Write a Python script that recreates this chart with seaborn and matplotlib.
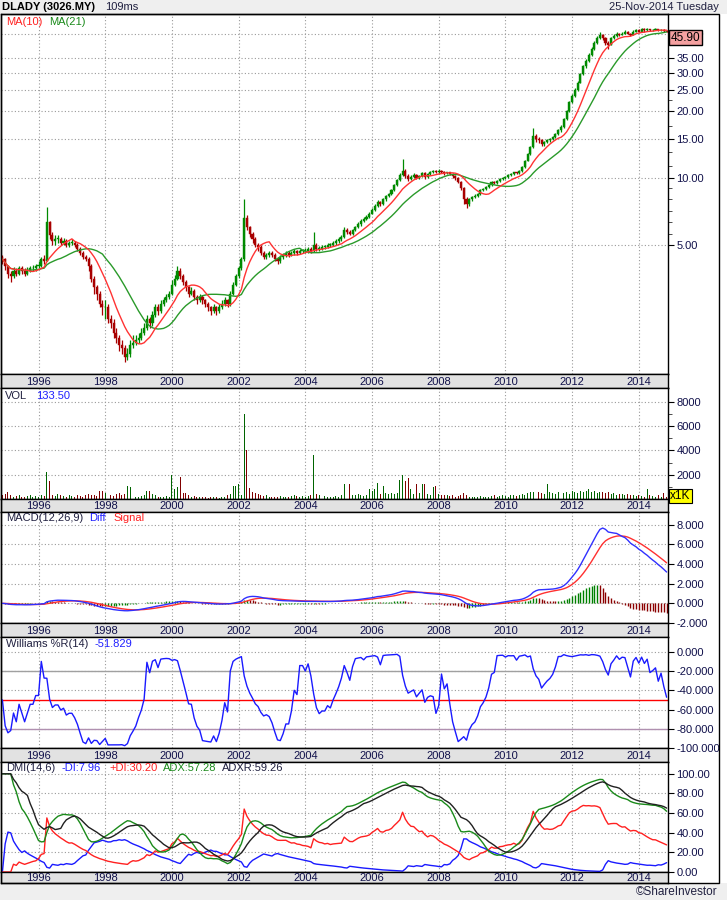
import numpy as np
import pandas as pd
import matplotlib
matplotlib.use("Agg")
import matplotlib.pyplot as plt
import matplotlib.transforms as mtransforms
from matplotlib.patches import Rectangle
import seaborn as sns

sns.set_theme(style="white")
plt.rcParams["font.family"] = ["Liberation Sans", "DejaVu Sans"]

# ---------------- data (monthly bars, Dec-1994 .. Nov-2014) ----------------
first_open = 4.4
close = [
    4.3,
    4.0, 3.7, 3.6, 3.8, 3.7, 3.9, 3.8, 3.7, 3.8, 3.9, 3.9, 4.0,            # 1995
    4.0, 4.3, 4.2, 6.3, 5.5, 5.2, 5.3, 5.3, 5.1, 5.2, 5.0, 5.1,            # 1996
    5.1, 5.0, 4.8, 4.6, 4.4, 4.3, 4.0, 3.5, 3.2, 3.0, 2.7, 2.6,            # 1997
    2.6, 2.3, 2.2, 2.0, 1.9, 1.75, 1.7, 1.55, 1.6, 1.75, 1.8, 1.85,        # 1998
    1.9, 2.0, 2.1, 2.3, 2.2, 2.4, 2.6, 2.5, 2.7, 2.8, 2.9, 3.0,            # 1999
    3.3, 3.5, 3.8, 3.6, 3.4, 3.2, 3.0, 3.1, 2.9, 2.8, 2.9, 2.8,            # 2000
    2.7, 2.6, 2.5, 2.6, 2.5, 2.6, 2.7, 2.8, 2.7, 3.0, 3.3, 3.6,            # 2001
    3.9, 4.3, 6.6, 6.0, 5.6, 5.3, 5.0, 4.9, 4.6, 4.4, 4.5, 4.6,            # 2002
    4.5, 4.3, 4.2, 4.4, 4.5, 4.6, 4.5, 4.6, 4.7, 4.6, 4.7, 4.7,            # 2003
    4.7, 4.8, 4.7, 5.0, 4.8, 4.8, 4.9, 4.9, 5.0, 5.0, 5.1, 5.2,            # 2004
    5.3, 5.4, 5.8, 5.7, 5.6, 5.8, 6.0, 6.2, 6.4, 6.5, 6.7, 6.9,            # 2005
    7.2, 7.5, 7.8, 7.6, 8.0, 8.3, 8.5, 8.8, 9.3, 9.8, 10.3, 10.8,          # 2006
    10.2, 9.9, 10.1, 10.3, 10.0, 10.2, 10.5, 10.1, 10.4, 10.6, 10.8, 10.6, # 2007
    10.8, 10.7, 10.5, 10.6, 10.4, 10.2, 10.0, 9.6, 9.0, 8.0, 7.6, 8.0,     # 2008
    8.2, 8.3, 8.5, 8.8, 8.9, 9.1, 9.3, 9.6, 9.5, 9.7, 9.9, 10.0,           # 2009
    10.1, 10.3, 10.4, 10.6, 10.5, 10.8, 11.2, 12.0, 12.8, 13.8, 15.5, 15.0,  # 2010
    14.8, 14.2, 14.5, 14.8, 15.0, 15.3, 15.8, 16.5, 17.0, 18.5, 20.0, 22.0,  # 2011
    23.5, 25.0, 27.0, 29.5, 32.0, 34.0, 36.0, 38.5, 41.0, 43.0, 44.5, 43.0,  # 2012
    41.0, 40.0, 43.0, 44.0, 45.0, 44.5, 45.0, 46.0, 45.0, 44.5, 46.0, 46.5,  # 2013
    46.0, 47.0, 46.5, 47.0, 46.5, 46.8, 47.0, 46.5, 46.8, 46.3, 45.9,        # 2014
]
high = [
    4.5,
    4.35, 4.05, 3.8, 3.95, 3.9, 4.0, 4.0, 3.9, 3.95, 4.0, 4.05, 4.1,
    4.2, 4.4, 4.5, 7.4, 6.4, 5.7, 5.5, 5.5, 5.4, 5.35, 5.3, 5.2,
    5.3, 5.2, 5.1, 4.9, 4.7, 4.5, 4.4, 4.1, 3.6, 3.3, 3.1, 2.8,
    2.8, 2.7, 2.4, 2.3, 2.1, 1.95, 1.85, 1.75, 1.7, 1.85, 1.95, 1.95,
    2.0, 2.1, 2.2, 2.4, 2.35, 2.5, 2.7, 2.7, 2.8, 2.9, 3.0, 3.1,
    3.45, 3.65, 4.0, 3.9, 3.7, 3.45, 3.25, 3.2, 3.15, 2.95, 3.0, 2.95,
    2.85, 2.75, 2.65, 2.7, 2.65, 2.7, 2.8, 2.9, 2.85, 3.1, 3.4, 3.7,
    4.0, 4.4, 8.0, 6.8, 6.1, 5.7, 5.4, 5.1, 5.0, 4.7, 4.6, 4.7,
    4.7, 4.6, 4.4, 4.5, 4.6, 4.7, 4.7, 4.7, 4.8, 4.75, 4.8, 4.8,
    4.85, 4.9, 4.9, 5.7, 5.1, 4.95, 5.0, 5.0, 5.1, 5.1, 5.2, 5.3,
    5.4, 5.5, 6.0, 5.95, 5.8, 5.9, 6.1, 6.3, 6.5, 6.65, 6.8, 7.0,
    7.3, 7.6, 7.95, 7.9, 8.1, 8.4, 8.6, 8.9, 9.4, 9.9, 10.5, 12.2,
    11.0, 10.4, 10.3, 10.5, 10.4, 10.35, 10.6, 10.6, 10.5, 10.8, 10.9, 10.9,
    11.0, 10.9, 10.8, 10.7, 10.7, 10.5, 10.3, 10.1, 9.7, 9.1, 8.2, 8.1,
    8.3, 8.45, 8.6, 8.9, 9.0, 9.2, 9.4, 9.7, 9.7, 9.8, 10.0, 10.1,
    10.25, 10.4, 10.5, 10.7, 10.7, 10.9, 11.3, 12.1, 13.0, 14.0, 16.8, 15.8,
    15.3, 15.0, 14.7, 15.0, 15.2, 15.5, 16.0, 16.7, 17.3, 18.7, 20.3, 22.4,
    24.0, 25.5, 27.5, 30.0, 32.6, 34.6, 36.8, 39.2, 41.8, 44.0, 45.8, 45.0,
    43.5, 41.5, 43.5, 44.6, 45.6, 45.5, 45.8, 46.8, 46.2, 45.4, 46.5, 47.0,
    47.0, 47.5, 47.6, 47.5, 47.3, 47.2, 47.5, 47.2, 47.2, 47.0, 46.6,
]
low = [
    4.1,
    3.85, 3.55, 3.4, 3.55, 3.6, 3.65, 3.7, 3.6, 3.65, 3.75, 3.8, 3.8,
    3.9, 3.95, 4.1, 4.2, 5.3, 5.0, 5.0, 5.1, 5.0, 5.0, 4.9, 4.9,
    5.0, 4.9, 4.7, 4.5, 4.3, 4.2, 3.8, 3.4, 3.0, 2.8, 2.6, 2.4,
    2.3, 2.2, 2.1, 1.9, 1.8, 1.65, 1.6, 1.48, 1.5, 1.55, 1.7, 1.75,
    1.8, 1.85, 1.95, 2.05, 2.1, 2.15, 2.35, 2.4, 2.45, 2.65, 2.75, 2.85,
    2.95, 3.25, 3.45, 3.5, 3.3, 3.1, 2.9, 2.95, 2.8, 2.7, 2.75, 2.7,
    2.6, 2.5, 2.4, 2.45, 2.4, 2.45, 2.55, 2.65, 2.6, 2.65, 2.95, 3.25,
    3.55, 3.85, 4.2, 5.8, 5.4, 5.1, 4.9, 4.7, 4.5, 4.3, 4.3, 4.4,
    4.4, 4.2, 4.1, 4.15, 4.3, 4.4, 4.4, 4.45, 4.5, 4.5, 4.55, 4.6,
    4.6, 4.6, 4.6, 4.65, 4.7, 4.7, 4.75, 4.8, 4.85, 4.9, 4.95, 5.0,
    5.1, 5.2, 5.35, 5.6, 5.5, 5.55, 5.75, 5.95, 6.1, 6.3, 6.45, 6.6,
    6.85, 7.1, 7.4, 7.5, 7.55, 7.9, 8.2, 8.4, 8.7, 9.2, 9.7, 10.2,
    10.0, 9.7, 9.8, 10.0, 9.9, 9.9, 10.1, 9.9, 10.0, 10.3, 10.5, 10.5,
    10.4, 10.5, 10.3, 10.4, 10.3, 10.0, 9.8, 9.5, 8.8, 7.6, 7.3, 7.5,
    7.9, 8.1, 8.2, 8.4, 8.7, 8.8, 9.0, 9.2, 9.4, 9.4, 9.6, 9.8,
    9.9, 10.0, 10.2, 10.3, 10.4, 10.4, 10.7, 11.1, 11.9, 12.7, 13.7, 14.6,
    14.4, 14.0, 14.0, 14.4, 14.6, 14.9, 15.2, 15.6, 16.2, 16.9, 18.3, 19.8,
    21.8, 23.2, 24.8, 26.8, 29.2, 31.5, 33.6, 35.5, 38.0, 40.5, 42.5, 42.0,
    40.0, 38.5, 39.8, 42.5, 43.5, 44.0, 44.2, 44.8, 44.6, 44.0, 44.3, 45.6,
    45.6, 45.8, 46.0, 46.2, 46.1, 46.2, 46.5, 46.2, 46.3, 46.0, 45.6,
]
volume_k = [
    300,
    400, 600, 300, 200, 250, 300, 200, 150, 250, 300, 200, 250,
    200, 300, 250, 2200, 1500, 300, 250, 400, 300, 250, 200, 350,
    250, 200, 300, 250, 200, 300, 400, 350, 300, 250, 700, 700,
    500, 400, 300, 250, 400, 500, 300, 400, 1100, 1000, 300, 200,
    200, 250, 300, 700, 650, 400, 300, 200, 150, 200, 250, 200,
    2000, 800, 1000, 1800, 500, 500, 300, 200, 250, 200, 150, 200,
    150, 100, 150, 200, 150, 100, 150, 200, 300, 400, 1100, 1100,
    1200, 300, 7000, 4000, 900, 600, 500, 400, 350, 250, 300, 200,
    200, 150, 200, 250, 200, 150, 200, 250, 300, 250, 200, 250,
    200, 250, 300, 3600, 400, 300, 200, 250, 200, 150, 200, 250,
    200, 300, 1200, 400, 1200, 300, 350, 400, 300, 250, 300, 800,
    700, 800, 1300, 400, 1100, 500, 400, 500, 450, 500, 1600, 2000,
    1500, 1700, 800, 400, 1200, 500, 1200, 1200, 400, 300, 1000, 1100,
    400, 300, 350, 300, 250, 300, 200, 250, 300, 500, 300, 200,
    200, 150, 200, 250, 200, 150, 200, 250, 300, 200, 250, 300,
    250, 200, 300, 350, 250, 300, 400, 350, 500, 600, 550, 400,
    600, 500, 400, 1200, 600, 500, 400, 550, 600, 500, 600, 400,
    700, 600, 500, 650, 600, 700, 800, 600, 700, 500, 600, 550,
    500, 600, 400, 500, 350, 400, 450, 300, 400, 350, 300, 250,
    300, 250, 200, 800, 300, 250, 200, 300, 200, 500, 133.5,
]
year_labels = [1996, 1998, 2000, 2002, 2004, 2006, 2008, 2010, 2012, 2014]
price_ticks = [5, 10, 15, 20, 25, 30, 35, 45]
price_minor = [5.6, 6.3, 7.1, 8, 9, 11.3, 13.1, 17.2, 22.5]
vol_ticks = [2000, 4000, 6000, 8000]
vol_minor = [1000, 3000, 5000, 7000]
macd_ticks = [-2, 0, 2, 4, 6, 8]
wr_ticks = [-100, -80, -60, -40, -20, 0]
dmi_ticks = [0, 20, 40, 60, 80, 100]

# ---------------- indicators ----------------
close = np.array(close, float)
high = np.array(high, float)
low = np.array(low, float)
vol = np.array(volume_k, float)
n = len(close)
idx = np.arange(n)
months = pd.date_range("1994-12-01", periods=n, freq="MS")
opn = np.r_[first_open, close[:-1]]
up = close >= opn

sc = pd.Series(close)
ma10 = sc.rolling(10, min_periods=1).mean()
ma21 = sc.rolling(21, min_periods=1).mean()
ema12 = sc.ewm(span=12, adjust=False).mean()
ema26 = sc.ewm(span=26, adjust=False).mean()
diff = ema12 - ema26
signal = diff.ewm(span=9, adjust=False).mean()
hist = diff - signal
hh = pd.Series(high).rolling(14, min_periods=1).max()
ll = pd.Series(low).rolling(14, min_periods=1).min()
wr = (hh - sc) / (hh - ll) * -100

hs, ls = pd.Series(high), pd.Series(low)
prev_c = sc.shift(1).fillna(first_open)
tr = pd.concat([hs - ls, (hs - prev_c).abs(), (ls - prev_c).abs()], axis=1).max(axis=1)
upm = hs.diff().fillna(0)
dnm = (-ls.diff()).fillna(0)
pdm = pd.Series(np.where((upm > dnm) & (upm > 0), upm, 0.0))
mdm = pd.Series(np.where((dnm > upm) & (dnm > 0), dnm, 0.0))
atr = tr.ewm(alpha=1 / 14, adjust=True).mean()
pdi = 100 * pdm.ewm(alpha=1 / 14, adjust=True).mean() / atr
mdi = 100 * mdm.ewm(alpha=1 / 14, adjust=True).mean() / atr
dx = (100 * (pdi - mdi).abs() / (pdi + mdi)).replace([np.inf, -np.inf], np.nan).bfill()
adx = dx.ewm(alpha=1 / 6, adjust=True).mean()
adxr = (adx + adx.shift(6).bfill()) / 2

# ---------------- layout ----------------
W, H = 727, 900
fig = plt.figure(figsize=(W / 100, H / 100), dpi=100)
fig.patch.set_facecolor("white")
L, R = 1, 668
GRID = "#9a9a9a"
LBL = "#10104a"
UPC, DNC = "#008a00", "#a80000"
XL = (-0.5, n - 0.5)
year_pos = [int(np.where((months.year == y) & (months.month == 1))[0][0]) for y in year_labels]


def px_axes(top, bottom, left=L, right=R):
    return fig.add_axes([left / W, 1 - bottom / H, (right - left) / W, (bottom - top) / H])


def ftxt(x, y, s, color="black", **kw):
    kw.setdefault("fontsize", 8)
    fig.text(x / W, 1 - y / H, s, color=color, va="center", ha="left", zorder=20, **kw)


# background strips and outer frame
fig.patches.append(Rectangle((0, 1 - 14 / H), 1, 14 / H, transform=fig.transFigure,
                             facecolor="#efefef", edgecolor="none", zorder=-2))
fig.patches.append(Rectangle((0, 0), 1, 17 / H, transform=fig.transFigure,
                             facecolor="#efefef", edgecolor="none", zorder=-2))
fig.patches.append(Rectangle((0.5 / W, 1 - 883 / H), 718.5 / W, (883 - 14) / H, transform=fig.transFigure,
                             facecolor="none", edgecolor="black", lw=1.0, zorder=15))


def style_panel(ax, ticks, fmt, minor=None):
    ax.set_xlim(*XL)
    ax.set_facecolor("white")
    for s in ax.spines.values():
        s.set_color("black")
        s.set_linewidth(1.0)
    ax.yaxis.tick_right()
    ax.set_yticks(ticks)
    ax.set_yticklabels([fmt % t for t in ticks])
    if minor is not None:
        ax.set_yticks(minor, minor=True)
        ax.set_yticklabels([], minor=True)
    else:
        ax.yaxis.set_minor_locator(matplotlib.ticker.NullLocator())
    ax.tick_params(axis="y", which="major", direction="out", length=4, width=0.8, color="black",
                   labelsize=8, labelcolor=LBL, pad=2, right=True, left=False)
    ax.tick_params(axis="y", which="minor", direction="out", length=3, width=0.6, color="#303030",
                   right=True, left=False)
    ax.tick_params(axis="x", bottom=False, labelbottom=False)
    ax.set_xticks([])
    for p in year_pos:
        ax.axvline(p, color=GRID, lw=0.8, ls=(0, (1, 2)), zorder=0.5)
    for t in ticks:
        ax.axhline(t, color=GRID, lw=0.8, ls=(0, (1, 2)), zorder=0.5)
    ax.set_xlabel("")
    ax.set_ylabel("")


def band(top, bottom):
    b = px_axes(top, bottom)
    b.set_facecolor("#e2e2e2")
    b.set_xlim(*XL)
    b.set_ylim(0, 1)
    b.set_xticks([])
    b.set_yticks([])
    for s in b.spines.values():
        s.set_color("black")
        s.set_linewidth(1.0)
    for p, y in zip(year_pos, year_labels):
        b.text(p, 0.45, str(y), ha="center", va="center", fontsize=8, color=LBL)
    return b


# ---- main price panel ----
ax = px_axes(14, 374)
ax.set_yscale("log")
ax.set_ylim(1.30, 55.2)
style_panel(ax, price_ticks, "%.2f", price_minor)
cols = np.where(up, UPC, DNC)
ax.vlines(idx, low, high, colors=cols, lw=0.9, zorder=2)
body_lo = np.minimum(opn, close)
body_h = np.maximum(np.abs(close - opn), close * 0.006)
ax.bar(idx, body_h, bottom=body_lo, width=0.75, color=cols, edgecolor=cols, lw=0.3, zorder=3)
sns.lineplot(x=idx, y=ma21.values, ax=ax, color="#2a9a2a", lw=1.0, zorder=4)
sns.lineplot(x=idx, y=ma10.values, ax=ax, color="#ff3333", lw=1.0, zorder=5)
ax.set_xlim(*XL)
ax.set_xlabel("")
ax.set_ylabel("")
trans = mtransforms.blended_transform_factory(ax.transAxes, ax.transData)
ax.text(1.004, close[-1], "%.2f" % close[-1], transform=trans, ha="left", va="top", fontsize=8.5,
        color="black", bbox=dict(boxstyle="square,pad=0.15", facecolor="#f4a0a0", edgecolor="black", lw=1.0),
        zorder=10, clip_on=False)
band(374, 388)

# ---- volume ----
av = px_axes(388, 499)
av.set_ylim(0, 9143)
style_panel(av, vol_ticks, "%d", vol_minor)
av.bar(idx, vol, width=0.35, color=np.where(up, "#006400", "#800000"), lw=0, zorder=2)
av.text(1.003, 250, "x1K", transform=mtransforms.blended_transform_factory(av.transAxes, av.transData),
        ha="left", va="center", fontsize=8.5, color="black",
        bbox=dict(boxstyle="square,pad=0.1", facecolor="#ffff00", edgecolor="black", lw=0.8), clip_on=False)
band(499, 512)

# ---- MACD ----
am = px_axes(512, 623)
am.set_ylim(-2.0, 9.3)
style_panel(am, macd_ticks, "%.3f")
hcol = np.where(hist.diff().fillna(0).values >= 0, "#008000", "#8b0000")
am.vlines(idx, 0, hist.values, colors=hcol, lw=1.0, zorder=2)
sns.lineplot(x=idx, y=signal.values, ax=am, color="#ff3030", lw=1.0, zorder=3)
sns.lineplot(x=idx, y=diff.values, ax=am, color="#3030ff", lw=1.0, zorder=4)
am.set_xlim(*XL)
am.set_xlabel("")
am.set_ylabel("")
band(623, 637)

# ---- Williams %R ----
aw = px_axes(637, 748)
aw.set_ylim(-100, 15.4)
style_panel(aw, wr_ticks, "%.3f")
aw.axhline(-20, color="#a0a0a0", lw=1.0, zorder=1)
aw.axhline(-80, color="#b090b0", lw=1.0, zorder=1)
aw.axhline(-50, color="#ff0000", lw=1.0, zorder=1)
sns.lineplot(x=idx, y=wr.values, ax=aw, color="#1a1aff", lw=1.0, zorder=3)
aw.set_xlim(*XL)
aw.set_xlabel("")
aw.set_ylabel("")
band(748, 762)

# ---- DMI ----
ad = px_axes(762, 872)
ad.set_ylim(0, 112)
style_panel(ad, dmi_ticks, "%.2f")
sns.lineplot(x=idx, y=mdi.values, ax=ad, color="#1a1aff", lw=1.0, zorder=3)
sns.lineplot(x=idx, y=pdi.values, ax=ad, color="#ff2020", lw=1.0, zorder=3)
sns.lineplot(x=idx, y=adx.values, ax=ad, color="#1a8a1a", lw=1.0, zorder=4)
sns.lineplot(x=idx, y=adxr.values, ax=ad, color="#202020", lw=1.0, zorder=4)
ad.set_xlim(*XL)
ad.set_xlabel("")
ad.set_ylabel("")
band(872, 883)

# ---------------- texts ----------------
ftxt(2, 7, "DLADY (3026.MY)", fontweight="bold", fontsize=8)
ftxt(105, 7, "109ms", fontsize=8, color="#202040")
fig.text(719 / W, 1 - 7 / H, "25-Nov-2014 Tuesday", ha="right", va="center", fontsize=8, color="#202040")
ftxt(6, 22, "MA(10)", color="#ff2020")
ftxt(49, 22, "MA(21)", color="#1a8a1a")
ftxt(5, 396, "VOL", color="#202040")
ftxt(36, 396, "133.50", color="#2020ff")
ftxt(6, 518, "MACD(12,26,9)", color="#202040")
ftxt(89, 518, "Diff", color="#2020ff")
ftxt(113, 518, "Signal", color="#ff2020")
ftxt(6, 644, "Williams %R(14)", color="#202040")
ftxt(94, 644, "-51.829", color="#2020ff")
ftxt(6, 768, "DMI(14,6)", color="#202040")
ftxt(62, 768, "-DI:7.96", color="#2020ff")
ftxt(109, 768, "+DI:30.20", color="#ff2020")
ftxt(163, 768, "ADX:57.28", color="#1a8a1a")
ftxt(222, 768, "ADXR:59.26", color="#202040")
fig.text(718 / W, 1 - 892 / H, "©ShareInvestor", ha="right", va="center", fontsize=8.5, color="#202040")

fig.savefig("out.png", dpi=100)
